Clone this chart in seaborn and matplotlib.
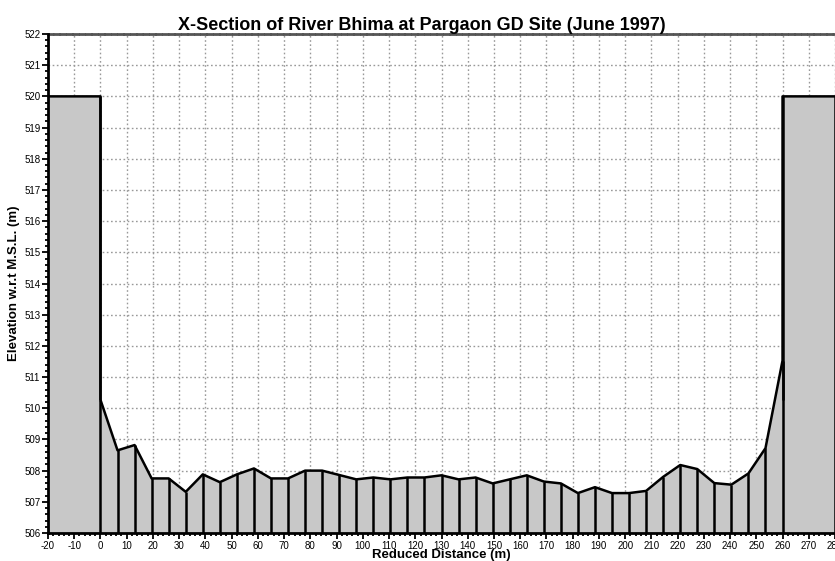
import numpy as np
import pandas as pd
import matplotlib
matplotlib.use("Agg")
import matplotlib.pyplot as plt
import seaborn as sns
from matplotlib.ticker import MultipleLocator

# Data
distance = [0, 6.5, 13, 19.5, 26, 32.5, 39, 45.5, 52, 58.5, 65, 71.5, 78, 84.5,
             91, 97.5, 104, 110.5, 117, 123.5, 130, 136.5, 143, 149.5, 156, 162.5,
             169, 175.5, 182, 188.5, 195, 201.5, 208, 214.5, 221, 227.5, 234,
             240.5, 247, 253.5, 260]
elevation = [510.27, 508.65, 508.82, 507.75, 507.75, 507.32, 507.88, 507.63, 507.88,
             508.07, 507.75, 507.75, 508.0, 508.0, 507.86, 507.72, 507.78, 507.72,
             507.78, 507.78, 507.85, 507.72, 507.78, 507.59, 507.72, 507.85, 507.65,
             507.59, 507.28, 507.47, 507.28, 507.28, 507.35, 507.80, 508.18, 508.05,
             507.60, 507.55, 507.91, 508.72, 511.53]
bank_level = 520
left_bank = [-20, 0]
right_bank = [260, 280]
base_level = 506

title = "X-Section of River Bhima at Pargaon GD Site (June 1997)"
xlabel = "Reduced Distance (m)"
ylabel = "Elevation w.r.t M.S.L. (m)"

sns.set_theme(style="white")
plt.rcParams['font.family'] = ['Liberation Sans', 'DejaVu Sans']
plt.rcParams['axes.unicode_minus'] = False
plt.rcParams['text.color'] = 'black'
plt.rcParams['axes.labelcolor'] = 'black'
plt.rcParams['xtick.color'] = 'black'
plt.rcParams['ytick.color'] = 'black'

fig = plt.figure(figsize=(8.35, 5.61), dpi=100)
ax = fig.add_axes([0.0575, 0.0499, 0.9425, 0.8895])

# full profile including banks
px = [left_bank[0], left_bank[1]] + distance + [right_bank[0], right_bank[1]]
py = [bank_level, bank_level] + elevation + [bank_level, bank_level]
df = pd.DataFrame({"x": px, "y": py})

fill_c = "#c8c8c8"
ax.fill_between(df["x"], base_level, df["y"], color=fill_c, zorder=2, linewidth=0)
ax.fill_between(left_bank, base_level, bank_level, color=fill_c, zorder=2, linewidth=0)
ax.fill_between(right_bank, base_level, bank_level, color=fill_c, zorder=2, linewidth=0)

sns.lineplot(data=df, x="x", y="y", sort=False, estimator=None, color="black",
             linewidth=1.8, ax=ax, zorder=4)
ax.vlines(distance, base_level, elevation, color="black", linewidth=1.8, zorder=4)
ax.vlines([left_bank[1], right_bank[0]], elevation[0], bank_level, color="black", linewidth=1.8, zorder=4)
ax.vlines([right_bank[1]], base_level, bank_level, color="black", linewidth=1.8, zorder=4)

ax.set_xlim(-20, 280)
ax.set_ylim(506, 522)
ax.xaxis.set_major_locator(MultipleLocator(10))
ax.xaxis.set_minor_locator(MultipleLocator(2))
ax.yaxis.set_major_locator(MultipleLocator(1))
ax.yaxis.set_minor_locator(MultipleLocator(0.2))

ax.grid(True, which="major", color="#999999", linestyle=(0, (1.2, 1.8)), linewidth=1.0, zorder=1)
ax.set_axisbelow(True)

for s in ["left", "bottom"]:
    ax.spines[s].set_color("black")
    ax.spines[s].set_linewidth(2)
    ax.spines[s].set_zorder(5)
ax.spines["right"].set_visible(False)
ax.spines["top"].set_color("#555555")
ax.spines["top"].set_linewidth(2)
ax.spines["top"].set_linestyle((0, (1.5, 0.8)))

ax.tick_params(axis="both", which="major", direction="out", length=4, width=1.3,
               labelsize=7, pad=1.5, left=True, bottom=True)
ax.tick_params(axis="both", which="minor", direction="out", length=2.2, width=1.3,
               left=True, bottom=True)

ax.set_xlabel(xlabel, fontsize=9.5, fontweight="bold", labelpad=-1)
ax.set_ylabel(ylabel, fontsize=9.5, fontweight="bold", labelpad=3)
ax.set_title(title, fontsize=13, fontweight="bold", pad=3, x=0.475)

fig.savefig("out.png", dpi=100)
